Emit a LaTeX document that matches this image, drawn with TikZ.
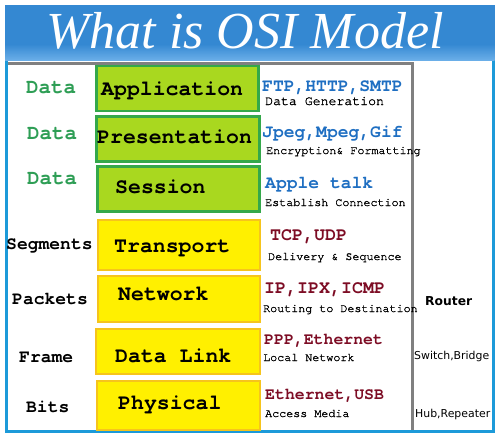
\documentclass[tikz,border=0pt]{standalone}
\usepackage{fontspec}
\setmainfont{Liberation Serif}
\setmonofont{TeX Gyre Cursor}
\newfontfamily\descfnt{TeX Gyre Cursor}[UprightFeatures={FakeBold=1.3}]
\newfontfamily\versans{DejaVu Sans}
\definecolor{framebl}{HTML}{1C9AD9}
\definecolor{titletop}{HTML}{3488D2}
\definecolor{titlebot}{HTML}{6AAEE8}
\definecolor{grayln}{HTML}{808080}
\definecolor{lime}{HTML}{A9D81F}
\definecolor{limeedge}{HTML}{34A84A}
\definecolor{yel}{HTML}{FFF000}
\definecolor{yeledge}{HTML}{F6C41C}
\definecolor{pdugreen}{HTML}{2E9E55}
\definecolor{protoblue}{HTML}{1F6FC2}
\definecolor{protored}{HTML}{7D0C24}
\tikzset{
  greenbox/.style={draw=limeedge, line width=2.6pt, fill=lime, inner sep=0pt},
  yellowbox/.style={draw=yeledge, line width=2pt, fill=yel, inner sep=0pt},
  layertxt/.style={font=\ttfamily\bfseries\fontsize{21.5}{21.5}\selectfont, inner sep=0pt, anchor=base west},
  pdugrn/.style={font=\ttfamily\bfseries\fontsize{20.8}{20.8}\selectfont, text=pdugreen, inner sep=0pt, anchor=base west},
  pdublk/.style={font=\ttfamily\bfseries\fontsize{18}{18}\selectfont, text=black, inner sep=0pt, anchor=base west},
  protob/.style={font=\ttfamily\bfseries\fontsize{18}{18}\selectfont, text=protoblue, inner sep=0pt, anchor=base west},
  protor/.style={font=\ttfamily\bfseries\fontsize{18.3}{18.3}\selectfont, text=protored, inner sep=0pt, anchor=base west},
  protorsm/.style={protor, font=\ttfamily\bfseries\fontsize{16.5}{16.5}\selectfont},
  desc/.style={font=\descfnt\fontsize{11.7}{11.7}\selectfont, text=black, inner sep=0pt, anchor=base west},
  devtxt/.style={font=\versans\fontsize{10.9}{10.9}\selectfont, inner sep=0pt, anchor=base west},
}
\begin{document}
\begin{tikzpicture}[x=1pt,y=-1pt]
\useasboundingbox (0,0) rectangle (501,439);
\fill[white] (0,0) rectangle (501,439);
% outer frame
\draw[framebl, line width=3pt] (6,6) rectangle (493,431);
% title band
\fill[titletop] (5,5) rectangle (494.5,44);
\shade[top color=titletop, bottom color=titlebot] (5,44) rectangle (494.5,60);
\node[font=\itshape\fontsize{52}{52}\selectfont, text=white, inner sep=0pt] (title) at (245,31) {What is OSI Model};
% gray frame
\draw[grayln, line width=3pt] (8,63) -- (412,63) -- (412,430);
% boxes
\node[greenbox, minimum width=162pt, minimum height=45pt] (app) at (177.5,88.5) {};
\node[greenbox, minimum width=163pt, minimum height=45pt] (pres) at (178,139) {};
\node[greenbox, minimum width=162pt, minimum height=45pt] (sess) at (178.5,189) {};
\node[yellowbox, minimum width=162pt, minimum height=50pt] (trans) at (178.5,244.5) {};
\node[yellowbox, minimum width=162pt, minimum height=46pt] (net) at (178.5,298.5) {};
\node[yellowbox, minimum width=164pt, minimum height=45pt] (dlink) at (177.5,351) {};
\node[yellowbox, minimum width=163pt, minimum height=49pt] (phys) at (178,405) {};
% layer names
\node[layertxt] (appt) at (101,95) {Application};
\node[layertxt] (prest) at (97,143) {Presentation};
\node[layertxt] (sesst) at (115,193) {Session};
\node[layertxt] (transt) at (114,252) {Transport};
\node[layertxt] (nett) at (118,300) {Network};
\node[layertxt] (dlinkt) at (115,362) {Data Link};
\node[layertxt] (physt) at (118,409) {Physical};
% PDUs
\node[pdugrn] (pdu1) at (26,93) {Data};
\node[pdugrn] (pdu2) at (27,139) {Data};
\node[pdugrn] (pdu3) at (27,184) {Data};
\node[pdublk] (pdu4) at (6,249) {Segments};
\node[pdublk] (pdu5) at (12,304) {Packets};
\node[pdublk] (pdu6) at (19,362) {Frame};
\node[pdublk] (pdu7) at (26,412) {Bits};
% protocols
\node[protob] (pr1) at (262,91) {FTP,HTTP,SMTP};
\node[desc, font=\descfnt\fontsize{13.2}{13.2}\selectfont] (d1) at (265,105) {Data Generation};
\node[protob] (pr2) at (262,137) {Jpeg,Mpeg,Gif};
\node[desc] (d2) at (266,154) {Encryption\& Formatting};
\node[protob] (pr3) at (265,188) {Apple talk};
\node[desc] (d3) at (265,206) {Establish Connection};
\node[protor] (pr4) at (270,240) {TCP,UDP};
\node[desc] (d4) at (268,260) {Delivery \& Sequence};
\node[protor] (pr5) at (264,293) {IP,IPX,ICMP};
\node[desc] (d5) at (263,312) {Routing to Destination};
\node[protorsm] (pr6) at (264,344) {PPP,Ethernet};
\node[desc] (d6) at (263,361) {Local Network};
\node[protorsm] (pr7) at (265,399) {Ethernet,USB};
\node[desc] (d7) at (265,417) {Access Media};
% devices
\node[devtxt, font=\versans\bfseries\fontsize{12.3}{12.3}\selectfont] (dev1) at (425,305) {Router};
\node[devtxt] (dev2) at (414,359) {Switch,Bridge};
\node[devtxt] (dev3) at (415,417) {Hub,Repeater};
\end{tikzpicture}
\end{document}
